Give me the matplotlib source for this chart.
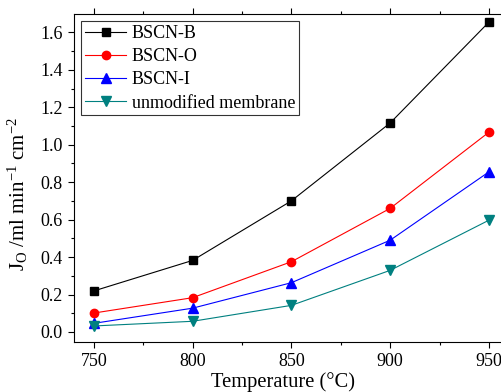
import matplotlib.pyplot as plt
from matplotlib.ticker import MultipleLocator

# data
temps = [750, 800, 850, 900, 950]
bscn_b = [0.219, 0.382, 0.700, 1.116, 1.655]
bscn_o = [0.101, 0.183, 0.375, 0.660, 1.067]
bscn_i = [0.046, 0.127, 0.263, 0.490, 0.855]
unmod = [0.032, 0.057, 0.142, 0.329, 0.597]

labels = ["BSCN-B", "BSCN-O", "BSCN-I", "unmodified membrane"]

plt.rcParams["font.family"] = ["Liberation Serif", "DejaVu Serif"]
plt.rcParams["mathtext.fontset"] = "custom"
plt.rcParams["mathtext.rm"] = "Liberation Serif"
plt.rcParams["mathtext.it"] = "Liberation Serif"

fig = plt.figure(figsize=(5.02, 3.92), dpi=100)
ax = fig.add_axes([0.1474, 0.1283, 0.866, 0.836])

ax.plot(temps, bscn_b, "-s", color="black", lw=0.8, ms=5.5, label=labels[0])
ax.plot(temps, bscn_o, "-o", color="red", lw=0.8, ms=6, label=labels[1])
ax.plot(temps, bscn_i, "-^", color="blue", lw=0.8, ms=6.5, label=labels[2])
ax.plot(temps, unmod, "-v", color="#008080", lw=0.8, ms=6.5, label=labels[3])

ax.set_xlim(740, 960)
ax.set_ylim(-0.052, 1.698)
ax.xaxis.set_major_locator(MultipleLocator(50))
ax.xaxis.set_minor_locator(MultipleLocator(25))
ax.yaxis.set_major_locator(MultipleLocator(0.2))
ax.yaxis.set_minor_locator(MultipleLocator(0.1))
ax.yaxis.set_major_formatter(plt.FormatStrFormatter("%.1f"))

ax.tick_params(which="both", direction="out", top=True, right=True,
               labelsize=13, width=0.8)
ax.tick_params(which="major", length=4.5)
ax.tick_params(which="minor", length=2.5)
for s in ax.spines.values():
    s.set_linewidth(0.8)

ax.set_xlabel("Temperature (\u00b0C)", fontsize=14.8)
ax.xaxis.set_label_coords(0.481, -0.092, transform=ax.transAxes)
ax.xaxis.label.set_va("top")
ax.set_ylabel(r"J$_\mathrm{O}$ /ml min$^{-1}$ cm$^{-2}$", fontsize=15)
ax.yaxis.set_label_coords(-0.101, 0.451, transform=ax.transAxes)

leg = ax.legend(loc="upper left", fontsize=13, frameon=True, fancybox=False,
                edgecolor="black", handlelength=2.3, borderaxespad=0.4,
                labelspacing=0.35, handletextpad=0.3, borderpad=0.2)
leg.get_frame().set_linewidth(0.8)

fig.savefig("out.png", dpi=100)
